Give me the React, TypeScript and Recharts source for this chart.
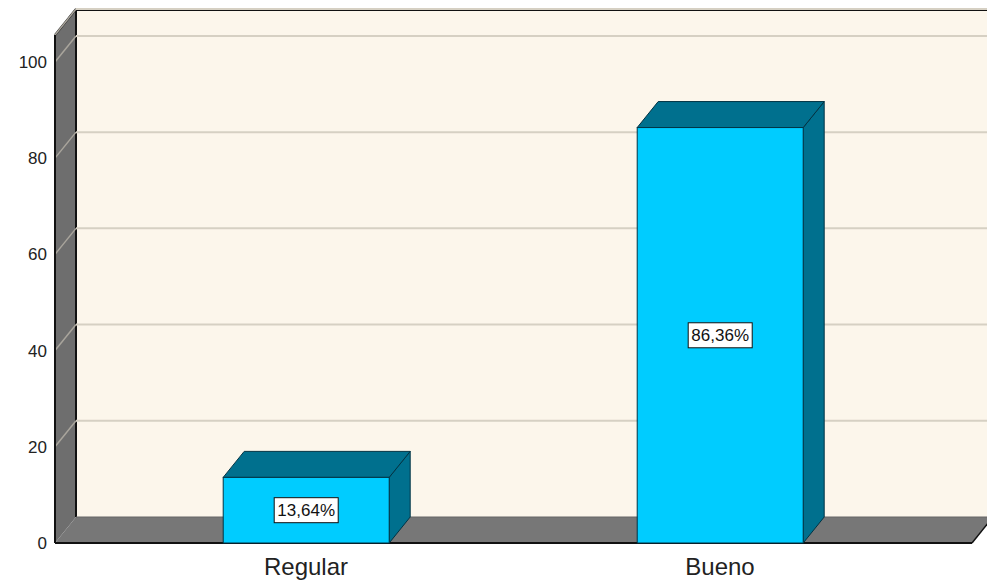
import { BarChart, Bar, XAxis, YAxis, CartesianGrid, LabelList, Customized } from "recharts";

const categories = ["Regular", "Bueno"];
const percents = [13.64, 86.36];
const percentLabels = ["13,64%", "86,36%"];
const yTicks = [0, 20, 40, 60, 80, 100];

const data = categories.map((name, i) => ({ name, value: percents[i], label: percentLabels[i] }));

// plot box (front plane) and 3D depth offset
const W = 987;
const H = 581;
const LEFT = 55;
const TOP = 35;
const RIGHT = 972;
const BOTTOM = 543;
const DX = 21;
const DY = -26;

const FRONT = "#00ccff";
const DARK = "#00708e";
const EDGE = "#003344";

// back wall, left wall and floor sit in their own svg behind the chart
const Walls = () => (
    <svg width={W} height={H} style={{ position: "absolute", left: 0, top: 0 }}>
        <rect x={LEFT + DX} y={TOP + DY} width={W - LEFT} height={BOTTOM - TOP} fill="#fcf6eb" />
        <polygon
            points={`${LEFT},${TOP} ${LEFT + DX},${TOP + DY} ${LEFT + DX},${BOTTOM + DY} ${LEFT},${BOTTOM}`}
            fill="#6e6e6e"
        />
        <polygon
            points={`${LEFT},${BOTTOM} ${LEFT + DX},${BOTTOM + DY} ${RIGHT + DX},${BOTTOM + DY} ${RIGHT},${BOTTOM}`}
            fill="#777777"
        />
        <line x1={LEFT + DX} y1={TOP + DY + 1} x2={W} y2={TOP + DY + 1} stroke="#111" strokeWidth={2} />
        <line x1={LEFT + DX} y1={TOP + DY} x2={LEFT + DX} y2={BOTTOM + DY} stroke="#111" strokeWidth={2} />
        <line x1={LEFT} y1={TOP} x2={LEFT + DX} y2={TOP + DY} stroke="#111" strokeWidth={2} />
        <line x1={LEFT + DX} y1={BOTTOM + DY} x2={W} y2={BOTTOM + DY} stroke="#666" strokeWidth={1} />
    </svg>
);

const FloorEdge = () => (
    <g>
        <line x1={LEFT} y1={TOP} x2={LEFT} y2={BOTTOM} stroke="#111" strokeWidth={2} />
        <line x1={LEFT} y1={BOTTOM} x2={RIGHT} y2={BOTTOM} stroke="#111" strokeWidth={2} />
        <line x1={RIGHT} y1={BOTTOM} x2={RIGHT + DX} y2={BOTTOM + DY} stroke="#111" strokeWidth={1.5} />
    </g>
);

const gridLine = (props: any) => {
    const y = props.y1;
    if (Math.abs(y - BOTTOM) < 1) return <g key={props.key} />;
    return (
        <g key={props.key}>
            <line x1={LEFT} y1={y} x2={LEFT + DX} y2={y + DY} stroke="#a9a59c" strokeWidth={1.5} />
            <line x1={LEFT + DX} y1={y + DY} x2={W} y2={y + DY} stroke="#d6d0c3" strokeWidth={2} />
        </g>
    );
};

const Box3D = (props: any) => {
    const { x, y, width: w, height: h } = props;
    return (
        <g>
            <polygon
                points={`${x + w},${y} ${x + w + DX},${y + DY} ${x + w + DX},${y + h + DY} ${x + w},${y + h}`}
                fill={DARK}
                stroke={EDGE}
                strokeWidth={1}
            />
            <polygon
                points={`${x},${y} ${x + DX},${y + DY} ${x + w + DX},${y + DY} ${x + w},${y}`}
                fill={DARK}
                stroke={EDGE}
                strokeWidth={1}
            />
            <rect x={x} y={y} width={w} height={h} fill={FRONT} stroke={EDGE} strokeWidth={1} />
        </g>
    );
};

const ValueBox = (props: any) => {
    const { x, y, width, height, value } = props;
    const cx = x + width / 2;
    const cy = y + height / 2;
    const bw = 64;
    const bh = 25;
    return (
        <g>
            <rect x={cx - bw / 2} y={cy - bh / 2} width={bw} height={bh} fill="#fff" stroke="#111" strokeWidth={1} />
            <text x={cx} y={cy + 6} textAnchor="middle" fontSize={17} fill="#111" fontFamily="Liberation Sans, Arial, sans-serif">
                {value}
            </text>
        </g>
    );
};

const CategoryTick = (props: any) => {
    const { x, payload } = props;
    return (
        <text x={x} y={575} textAnchor="middle" fontSize={24} fill="#222" fontFamily="Liberation Sans, Arial, sans-serif">
            {payload.value}
        </text>
    );
};

export default function App() {
    return (
        <div style={{ position: "absolute", left: 0, top: 0, width: W, height: H, background: "#fff" }}>
            <Walls />
            <div style={{ position: "absolute", left: 0, top: 0 }}>
                <BarChart
                    width={W}
                    height={H}
                    data={data}
                    margin={{ top: TOP, right: W - RIGHT, left: 0, bottom: 0 }}
                    barCategoryGap="30%"
                >
                    <CartesianGrid vertical={false} horizontal={gridLine} />
                    <XAxis
                        dataKey="name"
                        height={H - BOTTOM}
                        axisLine={false}
                        tickLine={false}
                        padding={{ left: 44, right: 45 }}
                        tick={CategoryTick}
                        interval={0}
                    />
                    <YAxis
                        width={LEFT}
                        domain={[0, 105.6]}
                        ticks={yTicks}
                        axisLine={false}
                        tickLine={false}
                        tick={{ fontSize: 17, fill: "#222", fontFamily: "Liberation Sans, Arial, sans-serif" }}
                    />
                    <Customized component={FloorEdge} />
                    <Bar dataKey="value" shape={Box3D} isAnimationActive={false}>
                        <LabelList dataKey="label" content={ValueBox} />
                    </Bar>
                </BarChart>
            </div>
        </div>
    );
}
